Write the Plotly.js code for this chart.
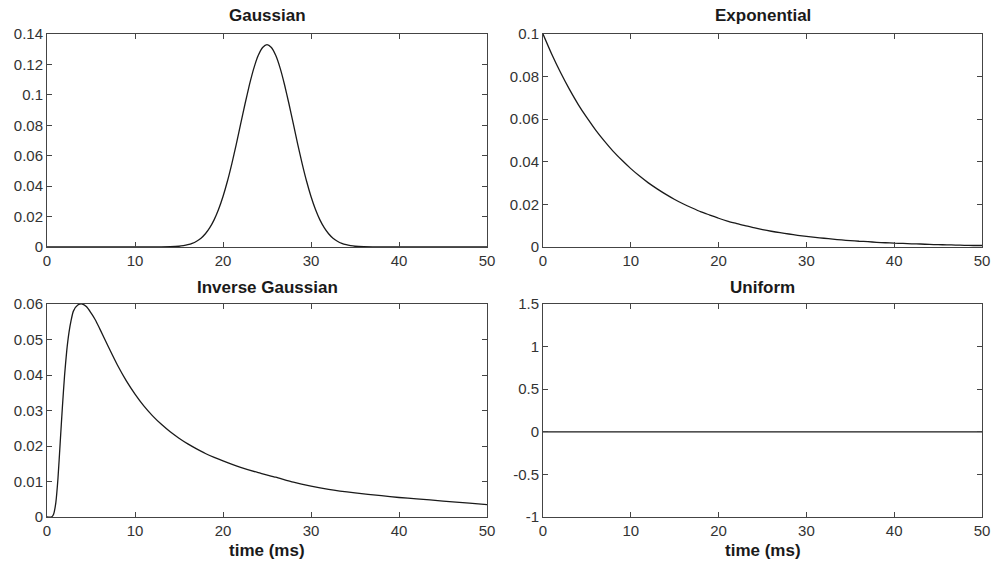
<!DOCTYPE html>
<html>
<head>
<meta charset="utf-8">
<script src="https://cdn.plot.ly/plotly-3.0.1.min.js"></script>
<style>html,body{margin:0;padding:0;background:#fff;}#chart{width:1000px;height:563px;}</style>
</head>
<body>
<div id="chart"></div>
<script>
// ---- Data ----
const panelTitles = ["Gaussian", "Exponential", "Inverse Gaussian", "Uniform"];
const xTitle = "time (ms)";

const gaussX = [0,5,10,12,13,14,15,15.5,16,16.5,17,17.5,18,18.5,19,19.5,20,20.5,21,21.5,22,22.5,23,23.5,24,24.5,25,25.5,26,26.5,27,27.5,28,28.5,29,29.5,30,30.5,31,31.5,32,32.5,33,33.5,34,34.5,35,36,37,38,40,45,50];
const gaussY = [0,0,0,0,0.00004,0.00016,0.0005,0.0009,0.0015,0.0024,0.0038,0.0058,0.0087,0.0127,0.0180,0.0248,0.0332,0.0432,0.0547,0.0673,0.0807,0.0940,0.1065,0.1174,0.1258,0.1311,0.1330,0.1311,0.1258,0.1174,0.1065,0.0940,0.0807,0.0673,0.0547,0.0432,0.0332,0.0248,0.0180,0.0127,0.0087,0.0058,0.0038,0.0024,0.0015,0.0009,0.0005,0.00016,0.00004,0,0,0,0];

const expX = [0,1,2,3,4,5,6,7,8,9,10,11,12,13,14,15,16,17,18,19,20,21,22,23,24,25,26,27,28,29,30,31,32,33,34,35,36,37,38,39,40,41,42,43,44,45,46,47,48,49,50];
const expY = [0.1,0.0905,0.0819,0.0741,0.0670,0.0607,0.0549,0.0497,0.0449,0.0407,0.0368,0.0333,0.0301,0.0273,0.0247,0.0223,0.0202,0.0183,0.0165,0.0150,0.0135,0.0122,0.0111,0.0100,0.0091,0.0082,0.0074,0.0067,0.0061,0.0055,0.0050,0.0045,0.0041,0.0037,0.0033,0.0030,0.0027,0.0025,0.0022,0.0020,0.0018,0.0017,0.0015,0.0014,0.0012,0.0011,0.0010,0.0009,0.0008,0.0007,0.0007];

const invgX = [0,0.5,0.75,1,1.25,1.5,1.75,2,2.25,2.5,2.75,3,3.5,4,4.5,5,5.5,6,7,8,9,10,11,12,13,14,15,16,17,18,19,20,22,24,26,28,30,32,35,38,40,42,45,48,50];
const invgY = [0,0,0.0008,0.004,0.011,0.021,0.031,0.040,0.047,0.052,0.0555,0.058,0.0597,0.0600,0.0592,0.0575,0.0555,0.0530,0.0478,0.0428,0.0384,0.0346,0.0313,0.0285,0.0261,0.0240,0.0222,0.0206,0.0192,0.0179,0.0168,0.0158,0.0140,0.0125,0.0112,0.0098,0.0087,0.0078,0.0068,0.0060,0.0055,0.0051,0.0045,0.0039,0.0035];

const unifX = [0,50];
const unifY = [0,0];

const xTicks = [0,10,20,30,40,50];
const unifTickVals = [-1,-0.5,0,0.5,1,1.5];
const unifTickText = ["-1","-0.5","0","0.5","1","1.5"];

// ---- Layout ----
const W = 1000, H = 563;
const px = v => v / W;
const py = v => 1 - v / H;
const lineStyle = {color: "#1a1a1a", width: 1.3, shape: "spline", smoothing: 0.6};
const font = "Liberation Sans, Arial, sans-serif";

function ax(domain, range, extra) {
  return Object.assign({
    domain: domain, range: range, showgrid: false, zeroline: false,
    showline: true, linecolor: "#444", linewidth: 1, mirror: "ticks",
    ticks: "inside", ticklen: 5, tickcolor: "#444", tickwidth: 1,
    tickfont: {family: font, size: 15, color: "#333"}, fixedrange: true
  }, extra || {});
}

const traces = [
  {x: gaussX, y: gaussY, xaxis: "x", yaxis: "y", mode: "lines", line: lineStyle},
  {x: expX, y: expY, xaxis: "x2", yaxis: "y2", mode: "lines", line: lineStyle},
  {x: invgX, y: invgY, xaxis: "x3", yaxis: "y3", mode: "lines", line: lineStyle},
  {x: unifX, y: unifY, xaxis: "x4", yaxis: "y4", mode: "lines", line: lineStyle}
];

const colL = [px(47), px(487)];
const colR = [px(543), px(982)];
const rowT = [py(247), py(34)];
const rowB = [py(517), py(304)];

const layout = {
  width: W, height: H, showlegend: false,
  margin: {l: 0, r: 0, t: 0, b: 0},
  paper_bgcolor: "#fff", plot_bgcolor: "#fff",
  font: {family: font, color: "#222"},
  xaxis:  ax(colL, [0,50], {anchor: "y",  tickvals: xTicks}),
  yaxis:  ax(rowT, [0,0.14], {anchor: "x",  dtick: 0.02}),
  xaxis2: ax(colR, [0,50], {anchor: "y2", tickvals: xTicks}),
  yaxis2: ax(rowT, [0,0.1], {anchor: "x2", dtick: 0.02}),
  xaxis3: ax(colL, [0,50], {anchor: "y3", tickvals: xTicks}),
  yaxis3: ax(rowB, [0,0.06], {anchor: "x3", dtick: 0.01}),
  xaxis4: ax(colR, [0,50], {anchor: "y4", tickvals: xTicks}),
  yaxis4: ax(rowB, [-1,1.5], {anchor: "x4", tickvals: unifTickVals, ticktext: unifTickText}),
  annotations: [
    {text: "<b>" + panelTitles[0] + "</b>", x: (colL[0]+colL[1])/2, y: py(16)},
    {text: "<b>" + panelTitles[1] + "</b>", x: (colR[0]+colR[1])/2, y: py(16)},
    {text: "<b>" + panelTitles[2] + "</b>", x: (colL[0]+colL[1])/2, y: py(287)},
    {text: "<b>" + panelTitles[3] + "</b>", x: (colR[0]+colR[1])/2, y: py(287)},
    {text: "<b>" + xTitle + "</b>", x: (colL[0]+colL[1])/2, y: py(550)},
    {text: "<b>" + xTitle + "</b>", x: (colR[0]+colR[1])/2, y: py(550)}
  ].map(a => Object.assign({xref: "paper", yref: "paper", showarrow: false,
    xanchor: "center", yanchor: "middle", font: {family: font, size: 17, color: "#1a1a1a"}}, a))
};

Plotly.newPlot("chart", traces, layout, {displayModeBar: false, staticPlot: true});
</script>
</body>
</html>
